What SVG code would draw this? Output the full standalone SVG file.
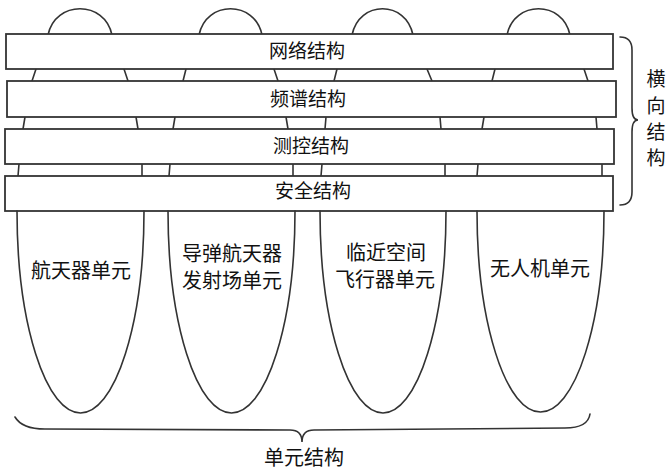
<svg xmlns="http://www.w3.org/2000/svg" width="671" height="475" viewBox="0 0 671 475">
<style>
.s{fill:none;stroke:#333;stroke-width:1.6;stroke-linecap:round}
.bar{fill:#fff;stroke:#333;stroke-width:1.8}
.t{font-family:"Liberation Sans","Noto Sans CJK SC",sans-serif;font-family:"Noto Sans CJK SC",sans-serif;font-size:19px;fill:#111;text-anchor:middle}
.u{font-size:20px}
</style>
<rect width="671" height="475" fill="#fff"/>
<g id="connectors" class="s">
<path d="M48,35 C55,0 105,0 112,35 M199,35 C206,0 255,0 262,35 M352,35 C359,0 406,0 413,35 M507,35 C514,0 563,0 570,35"/>
<path d="M36,69 L32,81 M124,69 L128,81 M186,69 L183,81 M274,69 L278,81 M337,69 L334,81 M427,69 L432,81 M495,69 L492,81 M584,69 L588,81"/>
<path d="M25,117 L23,129 M136,117 L138,129 M175,117 L173,129 M286,117 L288,129 M326,117 L325,129 M440,117 L441,129 M484,117 L482,129 M596,117 L597,129"/>
<path d="M19,164 L18,176 M142,164 L142,176 M170,164 L169,176 M293,164 L293,176 M322,164 L321,176 M445,164 L445,176 M478,164 L477,176 M602,164 L602,176"/>
</g>
<g id="net"><rect class="bar" x="6" y="34" width="607" height="35"/><text class="t" x="307" y="58">网络结构</text></g>
<g id="spectrum"><rect class="bar" x="7" y="81" width="609" height="36"/><text class="t" x="308" y="106">频谱结构</text></g>
<g id="tt"><rect class="bar" x="5" y="129" width="609" height="35"/><text class="t" x="311" y="153">测控结构</text></g>
<g id="security"><rect class="bar" x="5" y="176" width="608" height="35"/><text class="t" x="313" y="198">安全结构</text></g>
<g id="u1"><path class="s" d="M17,211 A63.5,202 0 0 0 144,211"/><text class="t u" x="81" y="278">航天器单元</text></g>
<g id="u2"><path class="s" d="M168,211 A63.5,202 0 0 0 295,211"/><text class="t u" x="232" y="261">导弹航天器</text><text class="t u" x="232" y="288">发射场单元</text></g>
<g id="u3"><path class="s" d="M320,211 A63,202 0 0 0 446,211"/><text class="t u" x="386" y="260">临近空间</text><text class="t u" x="385" y="287">飞行器单元</text></g>
<g id="u4"><path class="s" d="M477,211 A63.5,201 0 0 0 604,211"/><text class="t u" x="540" y="276">无人机单元</text></g>
<g id="horizontal">
<path class="s" d="M620,37 Q632,37 632,50 L632,108 Q632,120 638,120 Q632,120 632,132 L632,192 Q632,205 620,205"/>
<text class="t" x="656" y="86">横</text><text class="t" x="656" y="113">向</text><text class="t" x="656" y="139">结</text><text class="t" x="656" y="165">构</text>
</g>
<g id="unit">
<path class="s" d="M15,417 Q22,429 45,429 L290,430 Q302,430 302,442 Q302,430 314,430 L565,428 Q588,428 590,414"/>
<text class="t u" x="304" y="465">单元结构</text>
</g>
</svg>
